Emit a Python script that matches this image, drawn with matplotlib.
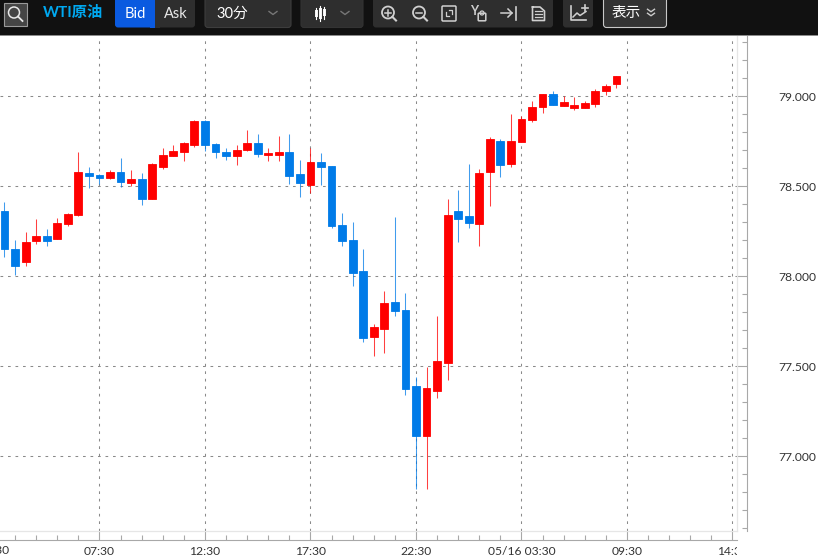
import numpy as np
import matplotlib
matplotlib.use('Agg')
import matplotlib.pyplot as plt
from matplotlib.patches import FancyBboxPatch, Circle, Rectangle
from matplotlib.ticker import MultipleLocator, FormatStrFormatter
from matplotlib.transforms import Bbox, TransformedBbox

plt.rcParams['font.family'] = ['Lato', 'Noto Sans CJK JP', 'DejaVu Sans']

# 30 minute candles
opens = [78.366, 78.154, 78.079, 78.199, 78.225, 78.208, 78.290, 78.343, 78.573, 78.564,
         78.549, 78.581, 78.518, 78.540, 78.429, 78.608, 78.669, 78.690, 78.731, 78.864,
         78.734, 78.690, 78.671, 78.703, 78.740, 78.673, 78.675, 78.693, 78.568, 78.508,
         78.638, 78.614, 78.288, 78.203, 78.032, 77.664, 77.708, 77.860, 77.812, 77.392,
         77.112, 77.366, 77.518, 78.364, 78.334, 78.293, 78.581, 78.753, 78.625, 78.749,
         78.869, 78.942, 79.014, 78.949, 78.934, 78.938, 78.960, 79.029, 79.069]
highs = [78.416, 78.203, 78.247, 78.321, 78.264, 78.323, 78.351, 78.692, 78.608, 78.568,
         78.592, 78.658, 78.592, 78.573, 78.631, 78.712, 78.731, 78.746, 78.867, 78.869,
         78.740, 78.714, 78.732, 78.814, 78.792, 78.714, 78.782, 78.792, 78.647, 78.716,
         78.686, 78.614, 78.351, 78.301, 78.151, 77.736, 77.919, 78.329, 77.910, 77.440,
         77.499, 77.781, 78.431, 78.481, 78.623, 78.597, 78.773, 78.762, 78.903, 78.892,
         78.973, 79.014, 79.032, 79.003, 78.996, 78.973, 79.040, 79.069, 79.114]
lows = [78.110, 78.008, 78.060, 78.181, 78.169, 78.208, 78.281, 78.338, 78.490, 78.514,
        78.540, 78.499, 78.503, 78.399, 78.429, 78.599, 78.669, 78.643, 78.719, 78.696,
        78.660, 78.649, 78.619, 78.699, 78.666, 78.642, 78.643, 78.514, 78.440, 78.462,
        78.508, 78.269, 78.171, 77.949, 77.638, 77.560, 77.575, 77.781, 77.340, 76.821,
        76.819, 77.327, 77.423, 78.190, 78.271, 78.169, 78.392, 78.551, 78.610, 78.749,
        78.860, 78.910, 78.951, 78.949, 78.927, 78.938, 78.943, 79.008, 79.049]
closes = [78.154, 78.060, 78.193, 78.225, 78.199, 78.296, 78.349, 78.581, 78.558, 78.549,
          78.581, 78.523, 78.540, 78.429, 78.625, 78.675, 78.696, 78.743, 78.864, 78.731,
          78.690, 78.671, 78.703, 78.743, 78.679, 78.686, 78.693, 78.560, 78.519, 78.634,
          78.610, 78.279, 78.199, 78.019, 77.658, 77.718, 77.851, 77.808, 77.377, 77.112,
          77.379, 77.531, 78.343, 78.319, 78.297, 78.573, 78.764, 78.621, 78.754, 78.873,
          78.943, 79.014, 78.951, 78.969, 78.951, 78.962, 79.031, 79.060, 79.112]

xtick_pos = [9, 19, 29, 39, 49, 59, 69]
xtick_labels = ['07:30', '12:30', '17:30', '22:30', '05/16 03:30', '09:30', '14:30']

RED = '#ff0000'
BLUE = '#007be8'
GRID = '#8a8a8a'
AXIS = '#a8a8a8'
TEXT = '#333333'
W, H = 818, 557

fig = plt.figure(figsize=(W / 100, H / 100), dpi=100, facecolor='white')
ax = fig.add_axes([0, (H - 531) / H, 737 / W, 495 / H])

# candles
x = np.arange(len(opens))
opens = np.array(opens)
closes = np.array(closes)
colors = [RED if c >= o else BLUE for o, c in zip(opens, closes)]
ax.vlines(x, lows, highs, colors=colors, lw=0.75, alpha=0.75, zorder=3)
ax.bar(x, np.abs(closes - opens), bottom=np.minimum(opens, closes), width=0.74,
       color=colors, edgecolor=colors, linewidth=0.6, zorder=4)

ax.set_xlim(-0.4265, 69.43)
ax.set_ylim(76.586, 79.336)

# grid and axes
ax.grid(True, which='major', color=GRID, lw=0.75, linestyle=(0, (2.6, 4.6)), zorder=1)
ax.set_axisbelow(True)
for side in ['top', 'left']:
    ax.spines[side].set_visible(False)
ax.spines['bottom'].set_position(('outward', 6.5))
ax.spines['right'].set_position(('outward', 7))
ax.spines['bottom'].set_color(AXIS)
ax.spines['right'].set_color(AXIS)
ax.yaxis.tick_right()
ax.yaxis.set_major_locator(MultipleLocator(0.5))
ax.yaxis.set_minor_locator(MultipleLocator(0.1))
ax.yaxis.set_major_formatter(FormatStrFormatter('%.3f'))
ax.tick_params(axis='y', which='major', direction='in', length=7, width=0.8, color=AXIS,
               pad=23, labelsize=8.7, labelcolor=TEXT)
ax.tick_params(axis='y', which='minor', direction='in', length=3.6, width=0.8, color=AXIS)
ax.set_xticks(xtick_pos, xtick_labels)
ax.set_xticks(np.arange(1, 70, 2), minor=True)
ax.tick_params(axis='x', which='major', direction='in', length=6.5, width=0.8, color=AXIS,
               pad=4, labelsize=8.7, labelcolor=TEXT)
ax.tick_params(axis='x', which='minor', direction='in', length=3.6, width=0.8, color=AXIS)

# light inner border of the plot area
ax.axhline(76.586, color='#e6e6e6', lw=0.9, clip_on=False, zorder=1)
ax.axvline(69.43, color='#e6e6e6', lw=0.9, clip_on=False, zorder=1)

# labels cut off at both ends of the time axis
ax.text(-1, -20 / 495, '02:30', transform=ax.get_xaxis_transform(), ha='center', va='center',
        fontsize=8.7, color=TEXT, clip_on=False)
clip = TransformedBbox(Bbox([[0, -0.2], [1, 1]]), ax.transAxes)
ax.get_xticklabels()[-1].set_clip_box(clip)
ax.get_xticklabels()[-1].set_clip_on(True)

# toolbar
bar = fig.add_axes([0, (H - 36) / H, 1, 36 / H], zorder=5)
bar.set_xlim(0, W)
bar.set_ylim(36, 0)
bar.axis('off')
bar.add_patch(Rectangle((0, 0), W, 35, color='#111111', lw=0))
bar.add_patch(Rectangle((0, 35), W, 1, color='#8c8c8c', lw=0))


def button(x0, x1, color='#2e2e2e', edge='none', y0=-3, y1=27.5):
    bar.add_patch(FancyBboxPatch((x0 + 3, y0 + 3), x1 - x0 - 6, y1 - y0 - 6,
                                 boxstyle='round,pad=3', fc=color, ec=edge, lw=0.8))


def chevron(cx, cy=13, w=4, h=3, color='#777777'):
    bar.plot([cx - w, cx, cx + w], [cy - h / 2, cy + h / 2, cy - h / 2], color=color, lw=1)


def label(cx, s, size=10.5, color='white', weight='normal'):
    bar.text(cx, 13.5, s, ha='center', va='center', fontsize=size, color=color, fontweight=weight)


bar.add_patch(Rectangle((3.5, 2.5), 23, 23, fc='#454545', ec='#9a9a9a', lw=0.8))
bar.add_patch(Circle((14, 12.5), 5.5, fc='none', ec='#e8e8e8', lw=1.1))
bar.plot([18, 22.5], [16.5, 21], color='#e8e8e8', lw=1.3)

label(73, 'WTI原油', size=11, color='#00a8f0', weight='bold')

button(115, 158, color='#0a5ae0')
button(152, 195)
bar.add_patch(Rectangle((150, 0), 5, 27.5, color='#0a5ae0', lw=0))
bar.add_patch(Rectangle((155, 0), 5, 27.5, color='#2e2e2e', lw=0))
label(135, 'Bid')
label(176, 'Ask', color='#e8e8e8')

button(205, 291, edge='#3d3d3d')
label(232.5, '30分')
chevron(273)

button(301, 363, edge='#333333')
for cx, y0, y1, b0, b1 in [(316, 8, 19, 10, 17), (320, 6, 21, 8, 19), (324, 7, 19, 9, 16)]:
    bar.plot([cx, cx], [y0, y1], color='white', lw=0.8)
    bar.add_patch(Rectangle((cx - 1.5, b0), 3, b1 - b0, color='#f0f0f0', lw=0))
chevron(345)

# tool icons
button(373, 553)
ICON = '#d0d0d0'
for cx, plus in [(388, True), (419, False)]:
    bar.add_patch(Circle((cx, 12.5), 6, fc='none', ec=ICON, lw=1.3))
    bar.plot([cx + 4.3, cx + 8], [16.8, 20.5], color=ICON, lw=1.5)
    bar.plot([cx - 3, cx + 3], [12.5, 12.5], color=ICON, lw=1.1)
    if plus:
        bar.plot([cx, cx], [9.5, 15.5], color=ICON, lw=1.1)
bar.add_patch(FancyBboxPatch((443, 7), 12, 13, boxstyle='round,pad=1', fc='none', ec=ICON, lw=1.1))
bar.plot([446, 446, 449], [12, 16, 16], color=ICON, lw=0.9)
bar.plot([449, 452, 452], [10, 10, 14], color=ICON, lw=0.9)
bar.text(474, 11, 'Y', ha='center', va='center', fontsize=9, color=ICON, fontweight='bold')
bar.add_patch(FancyBboxPatch((479, 14), 6, 6, boxstyle='round,pad=0.8', fc='none', ec=ICON, lw=1.1))
bar.add_patch(Circle((482, 13), 2, fc='none', ec=ICON, lw=0.9))
bar.plot([501, 512], [13, 13], color=ICON, lw=1.1)
bar.plot([508, 512, 508], [9, 13, 17], color=ICON, lw=1.1)
bar.plot([516, 516], [6.5, 20], color=ICON, lw=1.2)
bar.plot([532.5, 540, 544.5, 544.5, 532.5, 532.5], [7, 7, 11, 20.5, 20.5, 7], color=ICON, lw=1.2)
for ly in [11, 14, 17]:
    bar.plot([535, 542], [ly, ly], color=ICON, lw=0.9)

button(563, 593)
bar.plot([571, 571, 586], [6, 20, 20], color=ICON, lw=1.2)
bar.plot([573, 577, 580, 586], [17, 13, 15.5, 11.5], color=ICON, lw=1.1)
bar.plot([582, 588], [8, 8], color=ICON, lw=1.2)
bar.plot([585, 585], [5, 11], color=ICON, lw=1.2)

button(603.5, 666.5, color='#333333', edge='#c8c8c8')
label(626.5, '表示')
chevron(651, cy=10.5, color='#cccccc', w=3.5, h=2.5)
chevron(651, cy=14.5, color='#cccccc', w=3.5, h=2.5)

fig.savefig('out.png', dpi=100)
